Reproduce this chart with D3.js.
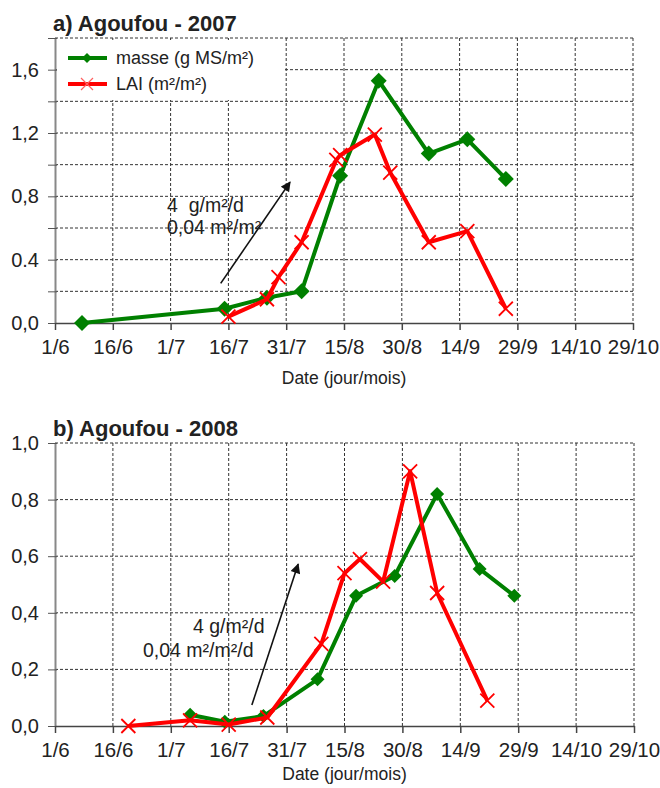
<!DOCTYPE html>
<html>
<head>
<meta charset="utf-8">
<script src="https://cdn.jsdelivr.net/npm/d3@7"></script>
<style>
  body { margin: 0; background: #fff; }
  text { font-family: "Liberation Sans", Arial, sans-serif; fill: #222; }
  .grid line { stroke: #333; stroke-width: 1; stroke-dasharray: 3,2; }
</style>
</head>
<body>
<div id="chart"></div>
<script>
// x ticks, shared by both panels
var dateTicks = ["1/6", "16/6", "1/7", "16/7", "31/7", "15/8", "30/8", "14/9", "29/9", "14/10", "29/10"];

// a) 2007
var masse07Dates = ["8/6", "15/7", "26/7", "4/8", "14/8", "24/8", "6/9", "16/9", "26/9"];
var masse07 = [0.0, 0.09, 0.16, 0.20, 0.93, 1.53, 1.07, 1.16, 0.91];
var lai07Dates = ["16/7", "26/7", "29/7", "4/8", "13/8", "14/8", "23/8", "27/8", "6/9", "16/9", "26/9"];
var lai07 = [0.04, 0.15, 0.29, 0.51, 1.03, 1.06, 1.19, 0.95, 0.51, 0.58, 0.09];
var yTicks07 = [0, 0.2, 0.4, 0.6, 0.8, 1.0, 1.2, 1.4, 1.6, 1.8];
var yLabels07 = {"0": "0,0", "0.4": "0.4", "0.8": "0,8", "1.2": "1,2", "1.6": "1,6"};

// b) 2008
var masse08Dates = ["6/7", "15/7", "25/7", "8/8", "18/8", "28/8", "8/9", "19/9", "28/9"];
var masse08 = [0.04, 0.015, 0.035, 0.165, 0.46, 0.53, 0.82, 0.555, 0.46];
var lai08Dates = ["20/6", "6/7", "16/7", "26/7", "9/8", "15/8", "19/8", "25/8", "1/9", "8/9", "21/9"];
var lai08 = [0.0, 0.02, 0.005, 0.03, 0.29, 0.54, 0.59, 0.51, 0.90, 0.47, 0.09];
var yTicks08 = [0, 0.2, 0.4, 0.6, 0.8, 1.0];
var yLabels08 = {"0": "0,0", "0.2": "0,2", "0.4": "0,4", "0.6": "0,6", "0.8": "0,8", "1": "1,0"};

// growth-rate arrows [date, value]
var arrow07 = [["14/7", 0.25], ["1/8", 0.89]];
var arrow08 = [["22/7", 0.074], ["3/8", 0.572]];

var svg = d3.select("#chart").append("svg").attr("width", 660).attr("height", 788);

svg.append("defs").append("marker")
    .attr("id", "head")
    .attr("viewBox", "0 0 10 10")
    .attr("refX", 9).attr("refY", 5)
    .attr("markerWidth", 11).attr("markerHeight", 10)
    .attr("markerUnits", "userSpaceOnUse")
    .attr("orient", "auto")
  .append("path")
    .attr("d", "M0,0 L10,5 L0,10 z")
    .attr("fill", "#111");

function panel(opt) {
  var parse = function(s) { return d3.timeParse("%d/%m/%Y")(s + "/" + opt.year); };
  var x = d3.scaleTime()
      .domain([parse("1/6"), parse("29/10")])
      .range([opt.left, opt.right]);
  var y = d3.scaleLinear().domain([0, opt.ymax]).range([opt.bottom, opt.top]);

  var g = svg.append("g");

  // grid
  var grid = g.append("g").attr("class", "grid");
  grid.selectAll(".v").data(dateTicks.slice(1)).enter().append("line")
      .attr("x1", function(d) { return x(parse(d)); })
      .attr("x2", function(d) { return x(parse(d)); })
      .attr("y1", opt.top).attr("y2", opt.bottom);
  grid.selectAll(".h").data(opt.yTicks.slice(1)).enter().append("line")
      .attr("x1", opt.left).attr("x2", opt.right)
      .attr("y1", function(d) { return y(d); })
      .attr("y2", function(d) { return y(d); });

  if (opt.legend) {
    g.append("rect")
        .attr("x", opt.left + 2).attr("y", opt.top + 2)
        .attr("width", 228).attr("height", 60)
        .attr("fill", "#fff");
  }

  // y axis
  var ya = g.append("g")
      .attr("transform", "translate(" + opt.left + ",0)")
      .call(d3.axisLeft(y).tickValues(opt.yTicks).tickSize(7).tickSizeOuter(0)
        .tickFormat(function(d) { var k = String(+d.toFixed(1)); return opt.yLabels[k] || ""; }));
  ya.select(".domain").attr("stroke", "#888").attr("stroke-width", 2);
  ya.selectAll(".tick line").attr("stroke", "#555").attr("x2", 2).attr("x1", -7);
  ya.selectAll("text").attr("x", -16).style("font-size", "20px").attr("fill", "#222");

  // x axis
  var xa = g.append("g")
      .attr("transform", "translate(0," + opt.bottom + ")")
      .call(d3.axisBottom(x).tickValues(dateTicks.map(parse)).tickSize(7).tickSizeOuter(0)
        .tickFormat(d3.timeFormat("%-d/%-m")));
  xa.select(".domain").attr("stroke", "#444").attr("stroke-width", 1.5);
  xa.selectAll(".tick line").attr("stroke", "#444").attr("stroke-width", 1.5);
  xa.selectAll("text").attr("y", 16).style("font-size", "20.5px").attr("fill", "#222");

  g.append("text")
      .attr("x", (opt.left + opt.right) / 2).attr("y", opt.labelY)
      .attr("text-anchor", "middle")
      .style("font-size", "17.5px")
      .text("Date (jour/mois)");

  g.append("text")
      .attr("x", opt.left - 2).attr("y", opt.titleY)
      .style("font-size", "22px").style("font-weight", "bold")
      .text(opt.title);

  // annotation arrow + text
  g.append("line")
      .attr("x1", x(parse(opt.arrow[0][0]))).attr("y1", y(opt.arrow[0][1]))
      .attr("x2", x(parse(opt.arrow[1][0]))).attr("y2", y(opt.arrow[1][1]))
      .attr("stroke", "#111").attr("stroke-width", 1.6)
      .attr("marker-end", "url(#head)");
  opt.notes.forEach(function(n) {
    g.append("text").attr("x", n[0]).attr("y", n[1])
        .style("font-size", "19.5px").style("white-space", "pre").text(n[2]);
  });

  var line = d3.line()
      .x(function(d) { return x(d[0]); })
      .y(function(d) { return y(d[1]); });

  var green = opt.masseDates.map(function(d, i) { return [parse(d), opt.masse[i]]; });
  var red = opt.laiDates.map(function(d, i) { return [parse(d), opt.lai[i]]; });
  var m = opt.marker;

  g.append("path").datum(green)
      .attr("d", line).attr("fill", "none")
      .attr("stroke", "#008000").attr("stroke-width", 4).attr("stroke-linejoin", "round");
  g.selectAll(".dia").data(green).enter().append("path")
      .attr("transform", function(d) { return "translate(" + x(d[0]) + "," + y(d[1]) + ")"; })
      .attr("d", "M0," + -m + " L" + m + ",0 L0," + m + " L" + -m + ",0 Z")
      .attr("fill", "#008000");

  g.append("path").datum(red)
      .attr("d", line).attr("fill", "none")
      .attr("stroke", "#ff0000").attr("stroke-width", 4).attr("stroke-linejoin", "round");
  g.selectAll(".cross").data(red).enter().append("path")
      .attr("transform", function(d) { return "translate(" + x(d[0]) + "," + y(d[1]) + ")"; })
      .attr("d", "M-7,-7 L7,7 M-7,7 L7,-7")
      .attr("stroke", "#ff0000").attr("stroke-width", 1.8);

  if (opt.legend) {
    var lg = g.append("g").attr("transform", "translate(" + (opt.left + 13) + "," + (opt.top + 20) + ")");
    lg.append("line").attr("x1", 0).attr("x2", 39).attr("y1", 0).attr("y2", 0)
        .attr("stroke", "#008000").attr("stroke-width", 4);
    lg.append("path").attr("transform", "translate(19,0)")
        .attr("d", "M0,-5 L5,0 L0,5 L-5,0 Z").attr("fill", "#008000");
    lg.append("text").attr("x", 48).attr("y", 6).style("font-size", "18px").text("masse (g MS/m²)");
    lg.append("line").attr("x1", 0).attr("x2", 39).attr("y1", 26).attr("y2", 26)
        .attr("stroke", "#ff0000").attr("stroke-width", 4);
    lg.append("path").attr("transform", "translate(19,26)")
        .attr("d", "M-6,-6 L6,6 M-6,6 L6,-6")
        .attr("stroke", "#ff6060").attr("stroke-width", 1.2);
    lg.append("text").attr("x", 48).attr("y", 32).style("font-size", "18px").text("LAI (m²/m²)");
  }
}

panel({
  year: 2007, title: "a) Agoufou - 2007", titleY: 31, labelY: 384,
  left: 55, right: 633, top: 38, bottom: 323, ymax: 1.8,
  yTicks: yTicks07, yLabels: yLabels07,
  masseDates: masse07Dates, masse: masse07, laiDates: lai07Dates, lai: lai07,
  arrow: arrow07, legend: true, marker: 8,
  notes: [[167, 212, "4  g/m²/d"], [167, 234, "0,04 m²/m²"]]
});

panel({
  year: 2008, title: "b) Agoufou - 2008", titleY: 436, labelY: 780,
  left: 55, right: 634, top: 443, bottom: 726, ymax: 1.0,
  yTicks: yTicks08, yLabels: yLabels08,
  masseDates: masse08Dates, masse: masse08, laiDates: lai08Dates, lai: lai08,
  arrow: arrow08, legend: false, marker: 7,
  notes: [[193, 633, "4 g/m²/d"], [143, 657, "0,04 m²/m²/d"]]
});
</script>
</body>
</html>
